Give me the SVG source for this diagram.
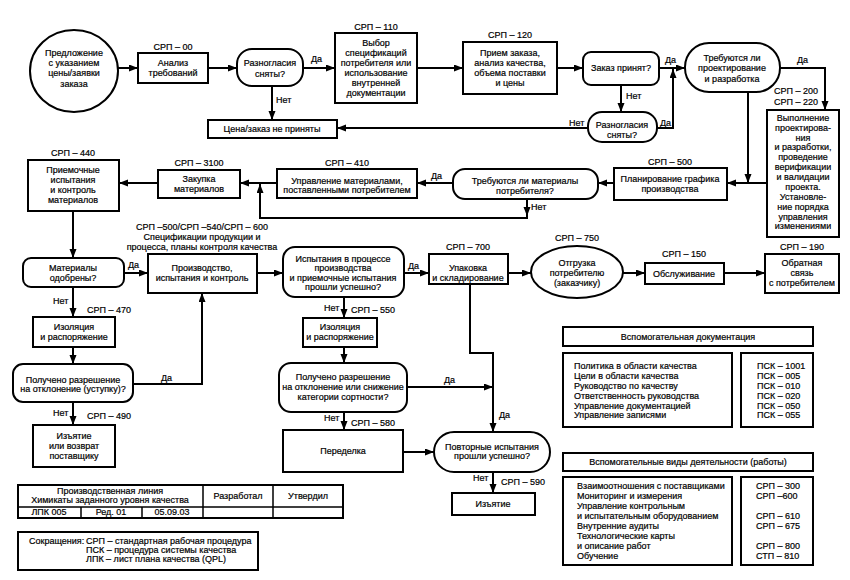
<svg xmlns="http://www.w3.org/2000/svg" width="850" height="580" viewBox="0 0 850 580">
<style>
.b{fill:#fff;stroke:#000;stroke-width:2}
.t{font-family:"Liberation Sans",Arial,sans-serif;font-size:9px;fill:#000;stroke:#000;stroke-width:0.2}
.c{text-anchor:middle}
.ln{fill:none;stroke:#000;stroke-width:2;marker-end:url(#ah)}
.pl{fill:none;stroke:#000;stroke-width:2}
.th{fill:none;stroke:#000;stroke-width:1.5}
</style>
<defs>
<marker id="ah" markerUnits="userSpaceOnUse" markerWidth="9" markerHeight="8" refX="9" refY="3.5" orient="auto">
<path d="M0,0 L9,3.5 L0,7 z" fill="#000"/>
</marker>
</defs>
<rect width="850" height="580" fill="#fff"/>

<g id="connectors">
<path class="ln" d="M118,68 H138"/>
<path class="ln" d="M208,68 H237"/>
<path class="ln" d="M303,68 H335"/>
<path class="ln" d="M417,68 H463"/>
<path class="ln" d="M557,68 H583"/>
<path class="ln" d="M659,68 H685"/>
<path class="ln" d="M272,86 V120"/>
<path class="ln" d="M621,85 V112"/>
<path class="ln" d="M588,128 H337"/>
<path class="ln" d="M657,128 H673 V69"/>
<path class="ln" d="M780,68 H825 V110"/>
<path class="ln" d="M748,92 V183"/>
<path class="ln" d="M767,183 H727"/>
<path class="ln" d="M614,183 H598"/>
<path class="ln" d="M453,183 H417"/>
<path class="ln" d="M277,183 H240"/>
<path class="ln" d="M158,183 H119"/>
<path class="ln" d="M527,199 V216"/>
<path class="ln" d="M527,214 V218 H260 V184"/>
<path class="ln" d="M73,211 V258"/>
<path class="ln" d="M124,273 H148"/>
<path class="ln" d="M257,273 H283"/>
<path class="ln" d="M404,273 H429"/>
<path class="ln" d="M508,273 H531"/>
<path class="ln" d="M623,273 H645"/>
<path class="ln" d="M724,273 H765"/>
<path class="ln" d="M73,287 V317"/>
<path class="ln" d="M73,347 V364"/>
<path class="ln" d="M133,384 H202 V293"/>
<path class="ln" d="M73,402 V425"/>
<path class="ln" d="M344,297 V318"/>
<path class="ln" d="M344,347 V363"/>
<path class="ln" d="M407,387 H493"/>
<path class="ln" d="M470,284 V353 H493 V432"/>
<path class="ln" d="M344,412 V430"/>
<path class="ln" d="M403,452 H434"/>
<path class="ln" d="M493,472 V493"/>
<g class="t">
<text x="311" y="62">Да</text>
<text x="276" y="103">Нет</text>
<text x="665" y="63">Да</text>
<text x="626" y="99">Нет</text>
<text x="569" y="126">Нет</text>
<text x="660" y="126">Да</text>
<text x="797" y="63">Да</text>
<text x="431" y="179">Да</text>
<text x="531" y="210">Нет</text>
<text x="128" y="268">Да</text>
<text x="408" y="269">Да</text>
<text x="53" y="304">Нет</text>
<text x="161" y="381">Да</text>
<text x="53" y="416">Нет</text>
<text x="324" y="311">Нет</text>
<text x="444" y="383">Да</text>
<text x="499" y="418">Да</text>
<text x="324" y="421">Нет</text>
<text x="473" y="481">Нет</text>
</g>
</g>

<g id="n_start"><ellipse class="b" cx="74" cy="71" rx="44" ry="41"/>
<text class="t c" x="74" y="56">Предложение</text><text class="t c" x="74" y="66">с указанием</text><text class="t c" x="74" y="76">цены/заявки</text><text class="t c" x="74" y="87">заказа</text></g>

<g id="n_srp00"><text class="t c" x="173" y="50">СРП – 00</text><rect class="b" x="138" y="53" width="70" height="30"/>
<text class="t c" x="173" y="66">Анализ</text><text class="t c" x="173" y="76">требований</text></g>

<g id="n_disagree1"><rect class="b" x="237" y="49" width="66" height="37" rx="15"/>
<text class="t c" x="270" y="66">Разногласия</text><text class="t c" x="270" y="77">сняты?</text></g>

<g id="n_reject"><rect class="b" x="208" y="120" width="129" height="18"/>
<text class="t c" x="272" y="132">Цена/заказ не приняты</text></g>

<g id="n_srp110"><text class="t c" x="376" y="30">СРП – 110</text><rect class="b" x="335" y="33" width="82" height="70"/>
<text class="t c" x="376" y="46">Выбор</text><text class="t c" x="376" y="56">спецификаций</text><text class="t c" x="376" y="66">потребителя или</text><text class="t c" x="376" y="76">использование</text><text class="t c" x="376" y="86">внутренней</text><text class="t c" x="376" y="96">документации</text></g>

<g id="n_srp120"><text class="t c" x="510" y="38">СРП – 120</text><rect class="b" x="463" y="42" width="94" height="52"/>
<text class="t c" x="510" y="56">Прием заказа,</text><text class="t c" x="510" y="66">анализ качества,</text><text class="t c" x="510" y="76">объема поставки</text><text class="t c" x="510" y="86">и цены</text></g>

<g id="n_accepted"><rect class="b" x="583" y="52" width="76" height="33" rx="8"/>
<text class="t c" x="621" y="71">Заказ принят?</text></g>

<g id="n_disagree2"><rect class="b" x="588" y="112" width="69" height="30" rx="14"/>
<text class="t c" x="622" y="128">Разногласия</text><text class="t c" x="622" y="138">сняты?</text></g>

<g id="n_design_q"><rect class="b" x="685" y="43" width="95" height="49" rx="24"/>
<text class="t c" x="732" y="61">Требуются ли</text><text class="t c" x="732" y="71">проектирование</text><text class="t c" x="732" y="82">и разработка</text></g>

<g id="n_design"><text class="t" x="818" y="94" text-anchor="end">СРП – 200</text><text class="t" x="818" y="105" text-anchor="end">СРП – 220</text>
<rect class="b" x="767" y="110" width="72" height="127"/>
<g class="t c">
<text x="803" y="121">Выполнение</text><text x="803" y="131">проектирова-</text><text x="803" y="141">ния</text><text x="803" y="150">и разработки,</text><text x="803" y="160">проведение</text><text x="803" y="170">верификации</text><text x="803" y="180">и валидации</text><text x="803" y="190">проекта.</text><text x="803" y="200">Установле-</text><text x="803" y="210">ние порядка</text><text x="803" y="220">управления</text><text x="803" y="229">изменениями</text>
</g></g>

<g id="n_srp500"><text class="t c" x="670" y="165">СРП – 500</text><rect class="b" x="614" y="168" width="113" height="32"/>
<text class="t c" x="670" y="182">Планирование графика</text><text class="t c" x="670" y="192">производства</text></g>

<g id="n_mat_q"><rect class="b" x="453" y="169" width="145" height="30" rx="12"/>
<text class="t c" x="525" y="184">Требуются ли материалы</text><text class="t c" x="525" y="194">потребителя?</text></g>

<g id="n_srp410"><text class="t c" x="347" y="166">СРП – 410</text><rect class="b" x="277" y="169" width="140" height="29"/>
<text class="t c" x="347" y="184">Управление материалами,</text><text class="t c" x="347" y="193">поставленными потребителем</text></g>

<g id="n_srp3100"><text class="t c" x="199" y="166">СРП – 3100</text><rect class="b" x="158" y="170" width="82" height="28"/>
<text class="t c" x="199" y="182">Закупка</text><text class="t c" x="199" y="192">материалов</text></g>

<g id="n_srp440"><text class="t c" x="73" y="156">СРП – 440</text><rect class="b" x="28" y="160" width="91" height="51"/>
<text class="t c" x="73" y="173">Приемочные</text><text class="t c" x="73" y="183">испытания</text><text class="t c" x="73" y="193">и контроль</text><text class="t c" x="73" y="203">материалов</text></g>

<g id="n_mat_ok"><rect class="b" x="23" y="258" width="101" height="29" rx="8"/>
<text class="t c" x="73" y="271">Материалы</text><text class="t c" x="73" y="281">одобрены?</text></g>

<g id="n_prod"><text class="t c" x="202" y="230">СРП –500/СРП –540/СРП – 600</text><text class="t c" x="202" y="240">Спецификации продукции и</text><text class="t c" x="202" y="250">процесса, планы контроля качества</text>
<rect class="b" x="148" y="254" width="109" height="39"/>
<text class="t c" x="202" y="271">Производство,</text><text class="t c" x="202" y="281">испытания и контроль</text></g>

<g id="n_test_q"><rect class="b" x="283" y="247" width="121" height="50" rx="12"/>
<text class="t c" x="343" y="262">Испытания в процессе</text><text class="t c" x="343" y="271">производства</text><text class="t c" x="343" y="281">и приемочные испытания</text><text class="t c" x="343" y="290">прошли успешно?</text></g>

<g id="n_srp700"><text class="t c" x="468" y="250">СРП – 700</text><rect class="b" x="429" y="254" width="79" height="30"/>
<text class="t c" x="468" y="271">Упаковка</text><text class="t c" x="468" y="281">и складирование</text></g>

<g id="n_ship"><text class="t c" x="577" y="241">СРП – 750</text><ellipse class="b" cx="577" cy="272" rx="46" ry="26"/>
<text class="t c" x="577" y="266">Отгрузка</text><text class="t c" x="577" y="276">потребителю</text><text class="t c" x="577" y="286">(заказчику)</text></g>

<g id="n_srp150"><text class="t c" x="684" y="257">СРП – 150</text><rect class="b" x="645" y="263" width="79" height="21"/>
<text class="t c" x="684" y="277">Обслуживание</text></g>

<g id="n_srp190"><text class="t c" x="802" y="250">СРП – 190</text><rect class="b" x="765" y="254" width="74" height="39"/>
<text class="t c" x="802" y="266">Обратная</text><text class="t c" x="802" y="276">связь</text><text class="t c" x="802" y="286">с потребителем</text></g>

<g id="n_iso1"><text class="t c" x="109" y="313">СРП – 470</text><rect class="b" x="33" y="317" width="82" height="30"/>
<text class="t c" x="74" y="330">Изоляция</text><text class="t c" x="74" y="340">и распоряжение</text></g>

<g id="n_dev1"><rect class="b" x="13" y="364" width="120" height="38" rx="10"/>
<text class="t c" x="73" y="383">Получено разрешение</text><text class="t c" x="73" y="392">на отклонение (уступку)?</text></g>

<g id="n_ret"><text class="t c" x="109" y="419">СРП – 490</text><rect class="b" x="33" y="425" width="82" height="42"/>
<text class="t c" x="74" y="439">Изъятие</text><text class="t c" x="74" y="449">или возврат</text><text class="t c" x="74" y="459">поставщику</text></g>

<g id="n_iso2"><text class="t c" x="373" y="313">СРП – 550</text><rect class="b" x="303" y="318" width="74" height="29"/>
<text class="t c" x="340" y="330">Изоляция</text><text class="t c" x="340" y="340">и распоряжение</text></g>

<g id="n_dev2"><rect class="b" x="279" y="363" width="128" height="49" rx="12"/>
<text class="t c" x="343" y="380">Получено разрешение</text><text class="t c" x="343" y="390">на отклонение или снижение</text><text class="t c" x="343" y="400">категории сортности?</text></g>

<g id="n_rework"><text class="t c" x="373" y="426">СРП – 580</text><rect class="b" x="283" y="430" width="120" height="42"/>
<text class="t c" x="343" y="454">Переделка</text></g>

<g id="n_retest"><rect class="b" x="434" y="432" width="116" height="40" rx="20"/>
<text class="t c" x="492" y="450">Повторные испытания</text><text class="t c" x="492" y="459">прошли успешно?</text></g>

<g id="n_scrap"><text class="t c" x="523" y="485">СРП – 590</text><rect class="b" x="452" y="493" width="83" height="22"/>
<text class="t c" x="493" y="507">Изъятие</text></g>

<g id="table">
<rect class="b" x="18" y="485" width="325" height="33"/>
<path class="th" d="M18,507 H343 M203,485 V518 M273,485 V518 M81,507 V518 M142,507 V518"/>
<text class="t c" x="110" y="494">Производственная линия</text>
<text class="t c" x="110" y="503">Химикаты заданного уровня качества</text>
<text class="t c" x="238" y="499">Разработал</text>
<text class="t c" x="308" y="499">Утвердил</text>
<text class="t c" x="49" y="515">ЛПК 005</text>
<text class="t c" x="111" y="515">Ред. 01</text>
<text class="t c" x="172" y="515">05.09.03</text>
</g>

<g id="abbr">
<rect class="b" x="18" y="532" width="240" height="38"/>
<text class="t" x="29" y="544">Сокращения: <tspan x="86">СРП – стандартная рабочая процедура</tspan></text>
<text class="t" x="86" y="553">ПСК – процедура системы качества</text>
<text class="t" x="86" y="562">ЛПК – лист плана качества (QPL)</text>
</g>

<g id="docs">
<rect class="b" x="563" y="327" width="250" height="19"/>
<text class="t c" x="688" y="340">Вспомогательная документация</text>
<rect class="b" x="563" y="353" width="169" height="74"/>
<rect class="b" x="741" y="353" width="72" height="74"/>
<g class="t">
<text x="574" y="369">Политика в области качества</text>
<text x="574" y="379">Цели в области качества</text>
<text x="574" y="389">Руководство по качеству</text>
<text x="574" y="399">Ответственность руководства</text>
<text x="574" y="409">Управление документацией</text>
<text x="574" y="418">Управление записями</text>
<text x="757" y="369">ПСК – 1001</text>
<text x="757" y="379">ПСК – 005</text>
<text x="757" y="389">ПСК – 010</text>
<text x="757" y="399">ПСК – 020</text>
<text x="757" y="409">ПСК – 050</text>
<text x="757" y="418">ПСК – 055</text>
</g>
</g>

<g id="activities">
<rect class="b" x="563" y="453" width="250" height="18"/>
<text class="t c" x="688" y="465">Вспомогательные виды деятельности (работы)</text>
<rect class="b" x="563" y="477" width="169" height="88"/>
<rect class="b" x="741" y="477" width="72" height="88"/>
<g class="t">
<text x="577" y="489">Взаимоотношения с поставщиками</text>
<text x="577" y="499">Мониторинг и измерения</text>
<text x="577" y="509">Управление контрольным</text>
<text x="577" y="519">и испытательным оборудованием</text>
<text x="577" y="529">Внутренние аудиты</text>
<text x="577" y="539">Технологические карты</text>
<text x="577" y="549">и описание работ</text>
<text x="577" y="559">Обучение</text>
<text x="756" y="489">СРП – 300</text>
<text x="756" y="499">СРП –600</text>
<text x="756" y="519">СРП – 610</text>
<text x="756" y="529">СРП – 675</text>
<text x="756" y="549">СРП – 800</text>
<text x="756" y="559">СТП – 810</text>
</g>
</g>
</svg>
